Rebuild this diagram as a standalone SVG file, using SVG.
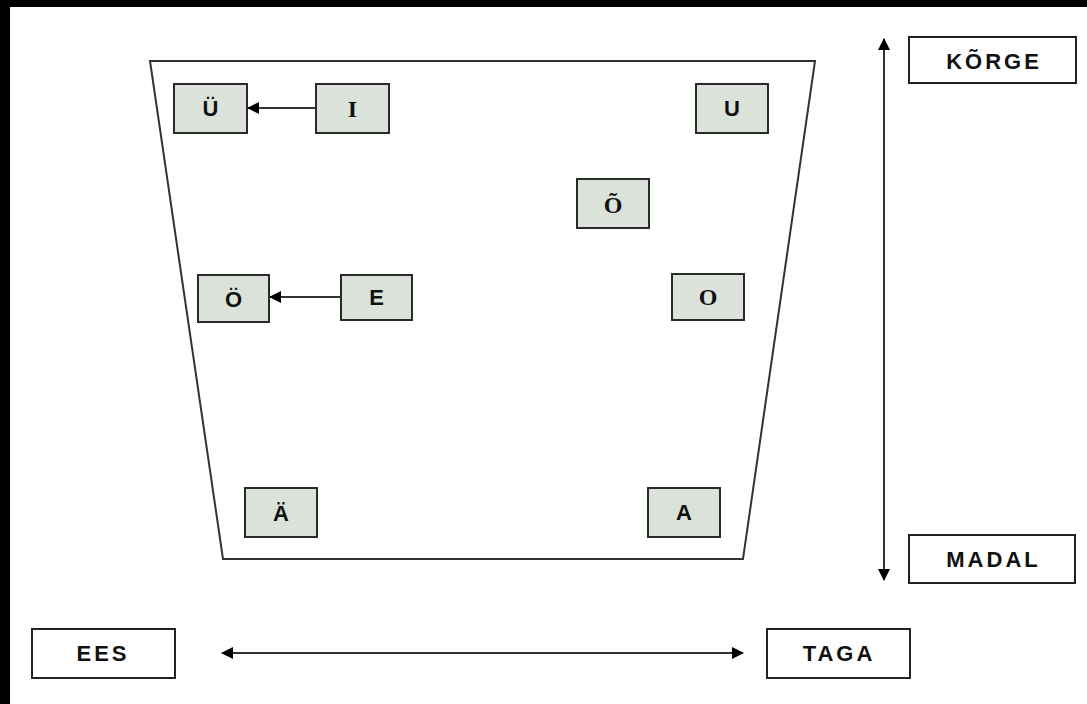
<svg xmlns="http://www.w3.org/2000/svg" width="1087" height="704" viewBox="0 0 1087 704">
<defs>
<style>
.v rect{fill:#dae2da;stroke:#2a2a2a;stroke-width:2}
.l rect{fill:#fff;stroke:#222;stroke-width:2}
.t{font-family:"Liberation Sans",Arial,sans-serif;font-weight:bold;font-size:22px;fill:#111;text-anchor:middle;dominant-baseline:central}
.s{font-family:"Liberation Serif","Times New Roman",serif;font-weight:bold;font-size:24px;fill:#111;text-anchor:middle;dominant-baseline:central}
.lab{font-family:"Liberation Sans",Arial,sans-serif;font-weight:bold;font-size:22px;letter-spacing:3px;fill:#111;text-anchor:middle;dominant-baseline:central}
.c{stroke:#333;stroke-width:2;fill:none}
</style>
<marker id="ah" markerWidth="12" markerHeight="12" refX="11" refY="6" orient="auto-start-reverse" markerUnits="userSpaceOnUse">
<path d="M0,0 L12,6 L0,12 Z" fill="#000"/>
</marker>
</defs>
<rect width="1087" height="704" fill="#fff"/>
<rect x="0" y="0" width="1087" height="7" fill="#000"/>
<rect x="0" y="0" width="10" height="704" fill="#000"/>
<polygon points="150,61 815,61 743,559 223,559" fill="#fff" stroke="#333" stroke-width="2"/>
<g id="connectors">
<line class="c" x1="316" y1="108" x2="248" y2="108" marker-end="url(#ah)"/>
<line class="c" x1="341" y1="297" x2="270" y2="297" marker-end="url(#ah)"/>
<line class="c" x1="884" y1="39" x2="884" y2="580" marker-start="url(#ah)" marker-end="url(#ah)"/>
<line class="c" x1="222" y1="653" x2="743" y2="653" marker-start="url(#ah)" marker-end="url(#ah)"/>
</g>
<g id="node-UE" class="v"><rect x="174" y="84" width="73" height="49"/><text class="t" x="210.5" y="108.5">Ü</text></g>
<g id="node-I" class="v"><rect x="316" y="84" width="73" height="49"/><text class="s" x="352.5" y="108.5">I</text></g>
<g id="node-U" class="v"><rect x="696" y="84" width="72" height="49"/><text class="t" x="732" y="108.5">U</text></g>
<g id="node-OT" class="v"><rect x="577" y="179" width="72" height="49"/><text class="s" x="613" y="205">Õ</text></g>
<g id="node-OE" class="v"><rect x="198" y="275" width="71" height="47"/><text class="t" x="233.5" y="299">Ö</text></g>
<g id="node-E" class="v"><rect x="341" y="275" width="71" height="45"/><text class="t" x="376.5" y="297.5">E</text></g>
<g id="node-O" class="v"><rect x="672" y="274" width="72" height="46"/><text class="s" x="708" y="297">O</text></g>
<g id="node-AE" class="v"><rect x="245" y="488" width="72" height="49"/><text class="t" x="281" y="513">Ä</text></g>
<g id="node-A" class="v"><rect x="648" y="488" width="72" height="49"/><text class="t" x="684" y="512.5">A</text></g>
<g id="label-korge" class="l"><rect x="909" y="37" width="167" height="46"/><text class="lab" x="994" y="61">KÕRGE</text></g>
<g id="label-madal" class="l"><rect x="909" y="535" width="166" height="48"/><text class="lab" x="993.5" y="559">MADAL</text></g>
<g id="label-ees" class="l"><rect x="32" y="629" width="143" height="49"/><text class="lab" x="103" y="653.5">EES</text></g>
<g id="label-taga" class="l"><rect x="767" y="629" width="143" height="49"/><text class="lab" x="839" y="653.5">TAGA</text></g>
</svg>
